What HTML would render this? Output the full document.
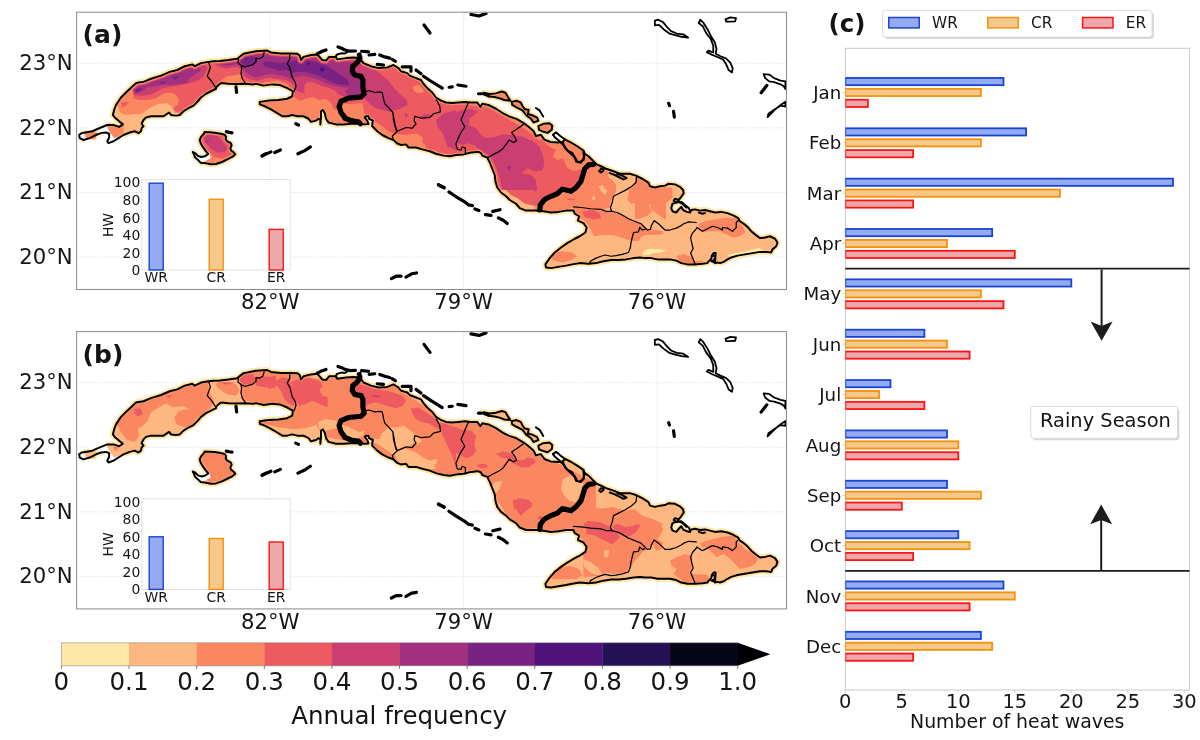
<!DOCTYPE html>
<html lang="en"><head><meta charset="utf-8"><title>Heat waves in Cuba</title>
<style>html,body{margin:0;padding:0;background:#fff}svg{display:block;will-change:transform}text{font-family:'DejaVu Sans','Liberation Sans',sans-serif;fill:#141414}</style></head><body>
<svg width="1200" height="740" viewBox="0 0 1200 740">
<rect width="1200" height="740" fill="#fff"/>
<defs>
<path id="main" d="M79.12 135 L81.62 133.12 L85.38 132.5 L92.25 131.25 L101 127.5 L107.25 125 L113.5 125 L119.12 126.88 L122.88 124.38 L119.12 121.25 L114.75 117.5 L112.88 115 L114.12 110 L116 105 L121 97.5 L127.25 91.25 L136 83.12 L138.5 82.5 L143.5 81.88 L151 78.75 L161 75.62 L169.75 71.88 L177.25 70 L184.75 66.25 L192.25 64.38 L194.75 66.25 L201 63.12 L208.5 61.88 L213.5 61.25 L219.75 61 L228.5 60 L237.25 58.75 L243.5 53.75 L256 51.25 L267.25 50.62 L271 52.5 L281 53.5 L291 53.5 L297.25 53.75 L299.75 55.62 L301 60 L303.5 56.88 L311 55 L317.25 54.38 L322.25 60 L326 60.62 L329.12 56.88 L336 56.88 L337.25 59.38 L346 58.12 L353.5 57.5 L359.75 58.12 L363.5 63.12 L371 66.25 L378.5 68.12 L387.25 67.5 L393.5 65 L398.5 68.12 L401 71.25 L407.25 73.12 L409.75 75.62 L416 78.12 L421 80 L423.5 83.75 L427.25 88.12 L432.25 92.5 L436 97.5 L441 100.62 L446 102.5 L452.25 103.12 L458.5 102.5 L464.75 101.88 L471 102.5 L477.25 102.5 L480.38 106.88 L482.25 103.75 L488.5 105 L496 108.75 L503.1 113.43 L509.18 116.47 L516.47 118.91 L523.77 123.16 L528.63 126.81 L533.5 131.06 L535.93 135.93 L540.79 134.71 L544.44 139.57 L550.52 142.01 L557.81 142.61 L562.67 142.01 L565.11 139.57 L571.19 142.61 L577.26 146.26 L583.34 150.52 L584.75 153.75 L588.5 156.25 L593.5 161.25 L596.62 164.38 L601 166.25 L606 168.75 L613.5 171.25 L619.75 173.75 L622.25 173.75 L629.75 173.75 L636 175.62 L642.25 178.75 L647.25 181.88 L648.75 183.12 L650 186.25 L655 187.5 L660 186.25 L665 185.62 L668.75 183.75 L675 184.38 L680 186.88 L683.12 190 L683.75 193.12 L681.25 196.88 L678.75 200 L675 198.75 L673.75 200.62 L676.25 202.5 L672.5 203.75 L671.25 208.12 L672.5 211.25 L676.25 212.5 L678.75 209.38 L681.25 206.88 L683.12 210 L686.88 211.88 L690 212.5 L691.25 210 L695 209.38 L700 210.62 L705 210 L710 211.25 L715 212.5 L721.25 211.88 L727.5 213.12 L733.75 215.62 L738.12 218.12 L740 221.25 L743.75 223.75 L747.5 226.88 L751.25 231.25 L755 234.38 L760 238.12 L765 237.5 L770 236.25 L775 238.75 L777.5 242.5 L776.25 246.25 L772.5 249.38 L771.25 252.5 L766.25 251.88 L760 251.88 L752.5 253.12 L745 254.38 L737.5 255.62 L731.25 257.5 L727.5 259.38 L723.75 261.88 L720 263.12 L717.5 262.5 L715 263.12 L715.62 253.12 L713.75 253.12 L711.88 255.62 L711.25 258.75 L708.12 261.88 L707.5 263.12 L702.5 263.75 L695 264.38 L687.5 264.38 L681.25 263.12 L676.25 260.62 L670 259.38 L663.75 259.38 L657.5 259.38 L651.25 258.12 L645 258.12 L640 257.5 L633.5 258.12 L626 259.38 L618.5 260 L611 260 L603.5 261.25 L596 263.12 L588.5 263.75 L579.75 263.12 L572.25 264.38 L566 265.62 L558.5 266.88 L551 268.12 L546 267.5 L545.38 264.38 L549.75 258.12 L554.75 252.5 L561 247.5 L567.25 243.12 L574.75 238.75 L579.75 236.25 L585.38 232.5 L586.62 227.5 L583.5 223.12 L577.88 220.62 L579.12 216.25 L574.75 213.75 L573.5 210.62 L566 210.62 L558.5 211.88 L551 212.5 L543.5 211.25 L536 210.62 L532.25 210.62 L526 210.62 L519.75 208.12 L516 203.75 L509.75 200 L506 196.25 L501 192.5 L497.25 187.5 L495.38 181.25 L494.75 175 L492.25 168.75 L489.75 162.5 L487.25 157.5 L482.25 155.62 L481 153.12 L478.5 151.88 L477.25 151.88 L471 152.5 L463.5 154.38 L456 155 L449.75 156.25 L443.5 155.62 L436 153.75 L429.75 151.25 L422.25 149.38 L416 147.5 L408.5 147.5 L406 144.38 L401 145 L397.25 143.5 L393.5 140 L388.5 138.12 L382.25 135 L377.25 131.25 L372.25 126.25 L372.25 123.75 L372.88 120.62 L369.12 118.75 L368.5 116.25 L366 116.25 L364.75 117.5 L367.25 120.62 L368.5 124 L364.75 124.38 L358.5 123.75 L351 123.75 L343.5 124.38 L336 124.38 L328.5 122.5 L326 118.75 L324.75 113.12 L322.88 110 L321 111.25 L321 117.5 L320.38 124.38 L320.38 120 L318.5 118.75 L316 120.62 L311 121.88 L308.5 118.75 L303.5 116.25 L297.25 116.25 L292.25 115 L287.25 116.25 L282.25 116.25 L277.25 113.12 L271 109.38 L264.75 106.25 L259.75 104.38 L259.75 101.88 L268.5 100.62 L278.5 100 L287.25 98.75 L292.25 96.25 L292.88 91.25 L287.25 88.12 L279.75 85 L272.25 84.38 L263.5 85.62 L256 83.75 L253.5 84.38 L244.75 83.75 L236 84 L228.5 83.75 L221 83.12 L218.5 85 L216 87.5 L216 88.75 L211 91.25 L206 93.75 L201 97.5 L197.88 101.25 L193.5 105.62 L188.5 108.12 L183.5 111.25 L179.75 115 L176 115.62 L171 115 L169.12 112.5 L167.25 113.75 L163.5 116.25 L157.25 116.25 L151 116.25 L146 117.5 L143.5 120 L141.62 123.75 L143.5 126.25 L141.62 128.12 L141 131.25 L138.5 133.12 L134.75 131.25 L129.75 132.5 L123.5 135 L118.5 138.12 L113.5 141.25 L108.5 143.12 L107.25 141.25 L109.12 137.5 L109.12 133.75 L106 132.5 L101 133.12 L96 135 L89.75 138.12 L83.5 140 L79.75 138.12Z"/>
<path id="juv" d="M204.67 132 L209.33 132.33 L214.67 132.67 L220.67 133.67 L224.67 134.67 L226 136.67 L225.67 139.33 L227.33 141.33 L230.67 143 L231.67 145.33 L230.33 148 L231 150.33 L233.33 152 L235.33 154.33 L232.67 156.67 L227.33 159.33 L222 162 L216 164 L210.67 164.33 L206 163.33 L200.67 162.67 L198 160 L195 157.33 L193.67 154 L192.67 152 L195.33 153.33 L198 156 L201.33 157 L204.67 156.33 L207.33 154.67 L208.33 154 L206 151.33 L202.67 146.67 L200.67 143.33 L199.67 140 L201 137 L203.67 134Z"/>
<path id="cay0" d="M483.65 92.77 L489.73 93.98 L495.81 93.37 L501.88 91.55 L505.53 92.77 L507.96 97.02 L510.4 100.67 L504.32 100.06 L499.45 98.24 L494.59 97.02 L488.51 96.41Z"/>
<path id="cay1" d="M511.61 101.88 L516.47 100.67 L520.73 102.49 L522.55 106.14 L524.98 109.18 L528.63 109.79 L528.02 114.04 L532.28 115.26 L537.14 117.69 L538.36 120.73 L533.5 122.55 L531.06 118.91 L526.2 115.26 L522.55 110.4 L516.47 107.36 L512.22 104.92Z"/>
<path id="cay2" d="M538.36 126.2 L543.22 123.77 L549.3 123.16 L552.34 125.59 L551.73 129.85 L547.48 132.89 L543.22 131.67 L538.97 129.85Z"/>
<clipPath id="cclip"><rect x="845.3" y="48" width="344.2" height="642"/></clipPath>
<clipPath id="mapclip"><rect x="77" y="12.5" width="709.5" height="277"/></clipPath>
<mask id="mk2" maskUnits="userSpaceOnUse" x="70" y="0" width="720" height="300"><g fill="#fff" stroke="#000" stroke-width="2.4" stroke-linejoin="round"><use href="#main"/><use href="#juv"/><use href="#cay0"/><use href="#cay1"/><use href="#cay2"/></g></mask>
<mask id="mk3" maskUnits="userSpaceOnUse" x="70" y="0" width="720" height="300"><g fill="#fff" stroke="#000" stroke-width="4.2" stroke-linejoin="round"><use href="#main"/><use href="#juv"/><use href="#cay0"/><use href="#cay1"/><use href="#cay2"/></g></mask>
<mask id="mk4" maskUnits="userSpaceOnUse" x="70" y="0" width="720" height="300"><g fill="#fff" stroke="#000" stroke-width="5.6" stroke-linejoin="round"><use href="#main"/><use href="#juv"/><use href="#cay0"/><use href="#cay1"/><use href="#cay2"/></g></mask>
<mask id="mk5" maskUnits="userSpaceOnUse" x="70" y="0" width="720" height="300"><g fill="#fff" stroke="#000" stroke-width="6.8" stroke-linejoin="round"><use href="#main"/><use href="#juv"/><use href="#cay0"/><use href="#cay1"/><use href="#cay2"/></g></mask>
<mask id="mk6" maskUnits="userSpaceOnUse" x="70" y="0" width="720" height="300"><g fill="#fff" stroke="#000" stroke-width="8.4" stroke-linejoin="round"><use href="#main"/><use href="#juv"/><use href="#cay0"/><use href="#cay1"/><use href="#cay2"/></g></mask>
<mask id="mk7" maskUnits="userSpaceOnUse" x="70" y="0" width="720" height="300"><g fill="#fff" stroke="#000" stroke-width="9.6" stroke-linejoin="round"><use href="#main"/><use href="#juv"/><use href="#cay0"/><use href="#cay1"/><use href="#cay2"/></g></mask>
<clipPath id="land"><use href="#main"/><use href="#juv"/><use href="#cay0"/><use href="#cay1"/><use href="#cay2"/></clipPath>
<g id="lines" fill="none" stroke="#000" stroke-linejoin="round" stroke-linecap="round">
<g stroke-width="1.25">
<path d="M208.5 61.88 L210.38 67.5 L207.25 76.25 L211.62 81.25 L216 88.12"/>
<path d="M241 66.25 L241.62 67.5 L241 73.75 L242.25 78.75 L245.38 83.12"/>
<path d="M238.5 59.38 L237.88 62.5 L241.62 65.62 L244.75 66.88 L252.25 65 L256 61.88 L256 58.12 L259.12 58.75 L262.88 56.88 L264.12 52.5"/>
<path d="M289.75 54.38 L289.75 58.75 L287.25 63.75 L289.75 67.5 L291 72.5 L292.25 77.5 L295.38 82.5 L296 86.25 L294.12 91.25"/>
<path d="M366 91.25 L369.12 90.62 L374.75 92.5 L379.75 91.88 L382.25 92.5 L383.5 98.75 L384.75 103.75 L388.5 107.5 L392.88 112.5 L393.5 120 L396 130 L392.88 112.5 L393.5 120 L395.38 126.25 L397.25 131.25 L392.25 136.25 L393.5 140"/>
<path d="M397.25 131.25 L406 127.5 L412.25 128.12 L416 123.75 L414.12 120.62 L414.75 116.25 L421 118.12 L429.75 117.5 L433.5 113.75 L440.38 111.88 L439.75 106.25 L436.62 100 L436 100"/>
<path d="M468.5 103.12 L467.88 103.75 L464.12 112.5 L461 120 L464.75 126.88 L461 132.5 L458.5 137.5 L456 143.75 L457.25 149.38 L461 150 L462.25 146.88 L465.38 148.12 L465.38 154.38"/>
<path d="M523.5 124.38 L517.25 128.75 L511.62 132.5 L514.75 136.88 L516.62 140.62 L513.5 142.5 L509.12 140 L506 144.38 L502.88 148.75 L498.5 151.88 L493.5 154.38 L487.88 157.5"/>
<path d="M636.62 176.88 L636 182.5 L631 186.88 L624.75 190.62 L618.5 193.75 L613.5 196.25 L612.25 202.5 L610.38 207.5 L611.62 211.25"/>
<path d="M573.5 206.88 L581 207.5 L591 208.75 L601 209.38 L606 211.25 L611.62 211.25 L617.25 212.5 L622.25 215 L628.5 218.75 L634.75 221.25 L641 223.75 L644.75 227.5 L647.25 230 L650.38 229.38 L651.62 225 L654.12 220.62 L658.5 223.75 L665 230 L670 230 L676.25 228.12 L681.25 225.62 L683.75 223.75 L688.75 221.88 L696.25 222.5"/>
<path d="M644.75 229.38 L642.25 230 L639.75 227.5 L638.5 231.88 L633.5 232.5 L631 242.5 L630.38 247.5 L628.5 252.5 L622.25 254.38 L616 255.62 L611 256.25 L605.38 255 L601 256.25 L596 258.12 L590.38 261.25 L589.75 263.75"/>
<path d="M696.88 228.12 L692.5 233.12 L690.62 237.5 L691.88 243.75 L693.12 248.75 L690.62 253.12 L692.5 257.5 L695 263.75"/>
<path d="M696.88 227.5 L702.5 231.25 L707.5 228.75 L712.5 226.25 L717.5 227.5 L722.5 230 L722.5 227.5 L727.5 228.12 L732.5 231.25 L736.25 227.5 L736.25 222.5 L738.75 220"/>
</g><g stroke-width="2">
<use href="#main"/><use href="#juv"/>
<use href="#cay0"/>
<use href="#cay1"/>
<use href="#cay2"/>
<path d="M552.95 134.71 L555.99 132.28 L560.24 135.93 L565.11 139.57"/>
<path d="M552.95 134.71 L554.77 137.14 L559.03 140.79 L563.89 145.65 L567.54 150.52 L572.4 152.95 L574.83 157.81 L576.05 161.46 L580.91 162.67 L583.95 157.81 L583.34 150.52"/>
<path d="M562.67 142.01 L565.11 148.09 L569.97 152.95 L574.83 157.2 L577.26 161.46"/>
<path d="M579.75 161.88 L583.5 160 L584.75 153.75"/>
<path d="M535.93 107.96 L539.57 110.4 L543.22 116.47"/>
<path d="M335.5 57 L337 54.5 L341.5 53.2 L345 53.5 L347.2 52.2"/>
<path d="M676.25 202.5 L681.25 201.88 L685 205 L688.75 208.12 L690 210.62"/>
<path d="M677.5 201.25 L682.5 203.75 L686.25 207.5"/>
<path d="M603.5 169.38 L601 168.75 L599.12 171.25 L601 172.5 L603.5 170.62"/>
<path d="M609.75 173.12 L614.75 175 L619.75 177.5 L623.5 179.38 L626.62 178.12 L622.25 175.62 L617.25 173.75"/>
<path d="M698.75 212.5 L702.5 213.75 L705 213.12"/>
<path d="M711.88 255.62 L715 256.25 L714.38 260 L711.25 261.25 L715 262.5"/>
</g><g stroke-width="1.8">
<path d="M654.87 20.54 L658.12 19.73 L662.98 22.17 L667.04 27.03 L671.09 31.09 L676.77 33.52 L683.26 34.33 L688.13 37.58 L681.64 36.76 L675.15 35.14 L669.47 33.52 L663.8 29.46 L658.93 24.92 L654.87 25.41Z"/>
<path d="M700.29 19.73 L703.54 22.98 L707.59 29.46 L710.84 35.95 L714.89 42.44 L716.51 48.93 L715.7 53.8 L720.57 56.23 L726.24 58.66 L730.3 62.72 L732.73 68.39 L731.92 72.45 L728.68 70.02 L726.24 64.34 L723 59.47 L717.32 57.04 L711.65 54.61 L706.78 52.17 L708.4 50.55 L713.27 52.5 L713.27 45.69 L710.84 39.2 L705.97 32.71 L702.73 26.22 L698.67 22.98Z"/>
<path d="M725.43 19.41 L730.3 17.46 L735.98 18.11 L735.17 21.35 L730.3 21.68 L726.24 21.68Z"/>
<path d="M763.55 74.07 L769.23 74.56 L774.1 78.13 L780.58 80.56 L785.45 81.37 L785.45 89.16 L783.83 86.24 L780.58 84.29 L774.1 82.18 L769.23 81.37 L765.17 78.13Z"/>
<path d="M785.45 101.65 L780.58 104.89 L775.72 108.95 L770.85 113.81 L767.61 117.06 L768.42 113.81 L774.1 109.76 L780.58 105.7 L785.45 106.51Z"/>
</g><g stroke-width="3.2">
<path d="M317.25 53.75 L322.25 51.25 L326 50"/>
<path d="M338 47 L341 48 L345 50 L350 51.2 L355.5 51"/>
<path d="M358.2 54.4 L360 53.8"/>
<path d="M361.62 51.25 L368.5 51.88"/>
<path d="M369.12 55 L374.75 54.38"/>
<path d="M379.75 55 L384.75 56.88 L389.75 58.12"/>
<path d="M392.25 59.38 L395.38 61.25"/>
<path d="M377.25 64.38 L383.5 65"/>
<path d="M402.25 66.88 L411 66.88 L411 71.25"/>
<path d="M416 70 L421 73.75"/>
<path d="M423.5 76.25 L431 81.25 L442.25 88.12"/>
<path d="M449.12 87.25 L452.25 86.88"/>
<path d="M457.88 85 L466 86.25"/>
<path d="M478.5 93.75 L481 93.75"/>
<path d="M483.5 93.75 L488.5 95.62"/>
<path d="M236 86.88 L236.62 92.5"/>
<path d="M226.33 131.67 L229.33 132.33 L232 132.8"/>
<path d="M262 156 L266 153.67"/>
<path d="M295.75 123.75 L298.5 125"/>
<path d="M262.25 155.62 L271 151.88"/>
<path d="M274.75 152.5 L280.38 150"/>
<path d="M297.88 153.75 L304.75 150.62 L310.38 146.88"/>
<path d="M438.5 185 L444.12 187.5"/>
<path d="M438.38 184.59 L444.05 187.84"/>
<path d="M448.92 191.89 L456.21 196.76 L464.32 201.62 L468.37 204.86 L472.43 205.67"/>
<path d="M474.86 208.92 L478.91 210.54"/>
<path d="M485.4 214.59 L491.08 215.4"/>
<path d="M492.7 211.35 L499.99 209.73"/>
<path d="M498.37 217.84 L503.24 220.27 L507.29 223.51"/>
<path d="M391.35 278.64 L396.22 276.21 L401.08 276.21"/>
<path d="M405.94 277.02 L411.62 273.78 L416.48 272.97"/>
<path d="M424 25 L430 33"/>
<path d="M471 14.5 L479 16 L486 13.5"/>
<path d="M668.66 103.27 L669.47 105.7"/>
<path d="M673.53 111.38 L674.34 117.06"/>
<path d="M766.8 85.43 L761.12 92.73"/>
</g><g stroke-width="5.2" stroke-linejoin="miter">
<path d="M359.75 56.88 L359.75 58.75 L357.25 62.5 L352.88 66.25 L352.25 71.25 L354.75 75 L361 76.25 L362.88 80 L362.88 87.5 L364.12 93.75 L361 96.88 L348.5 98.12 L341 101.25 L339.12 106.25 L341 112.5 L344.75 117.5 L343.5 117.5 L351 120.62 L358.5 121.88 L360.38 123.75"/>
<path d="M593.5 164.38 L588.5 165 L584.75 168.75 L582.88 175 L581 181.25 L576 187.5 L571 191.25 L566 190 L562.25 189.38 L557.25 193.75 L551 196.25 L546 198.75 L543.5 200.62 L540.38 205 L539.75 210"/>
</g></g>
</defs>
<g transform="translate(0 0)">
<g stroke="#dedede" stroke-width="0.6" stroke-dasharray="1 0.5" fill="none">
<path d="M270.2 12.5V289.5"/>
<path d="M463.6 12.5V289.5"/>
<path d="M657.0 12.5V289.5"/>
<path d="M77 63.3H786.5"/>
<path d="M77 127.9H786.5"/>
<path d="M77 192.5H786.5"/>
<path d="M77 257.0H786.5"/>
</g>
<g clip-path="url(#mapclip)">
<g stroke-linejoin="round"><g fill="#fde7a9" stroke="#fde7a9" stroke-width="6"><use href="#main"/><use href="#juv"/><use href="#cay0"/><use href="#cay1"/><use href="#cay2"/></g><g fill="#feb77e" stroke="#feb77e" stroke-width="1"><use href="#main"/><use href="#juv"/><use href="#cay0"/><use href="#cay1"/><use href="#cay2"/></g></g><g clip-path="url(#land)"><g mask="url(#mk2)"><path d="M113.5 98.33 L117.67 106.67 L120.17 112.5 L126 115 L134.33 114.17 L142.67 113.33 L149.33 108.33 L157.67 104.17 L166.83 103 L171.83 106.67 L174.33 110.83 L176 115.83 L192.67 116.67 L226 91.67 L276 91.67 L276 50 L192.67 50 L126 83.33Z" fill="#fb8761"/><path d="M106.83 124.17 L124.33 123.33 L123.5 133.33 L114.33 139.17 L109.33 133.33Z" fill="#fb8761"/><path d="M256 30 L456 30 L456 150 L256 150Z" fill="#fb8761"/><path d="M396 70 L596 70 L596 190 L396 190Z" fill="#fb8761"/><path d="M534.75 212.5 L534.75 201.25 L557.25 195 L567.25 191.88 L576 188.75 L584.75 176.25 L584.75 169.38 L586 160 L596 160 L603.5 167.5 L608.5 171.25 L608.5 177.5 L612.25 180 L616 185 L616 191.25 L613.5 196.25 L609.75 203.75 L609.75 207.5 L603.5 209.38 L591 208.75 L581 207.5 L573.5 207.5 L566 210 L559.75 213.75 L552.25 215 L544.75 213.75Z" fill="#fb8761"/><path d="M573.5 207.5 L591 208.75 L606 211.25 L617.25 212.5 L628.5 218.75 L641 223.75 L644.75 228.12 L639.75 228.75 L637.88 233.12 L641 237.5 L636 241.25 L628.5 240 L621 237.5 L613.5 235 L603.5 235 L593.5 236.25 L591 230 L587.25 223.75 L583.5 220 L578.5 217.5 L574.75 215Z" fill="#fb8761"/><path d="M628.5 191.25 L636 182.5 L641 177.5 L648.5 182.5 L653.5 185 L666 183.75 L666 220 L658.5 215 L652.25 210 L649.75 203.75 L646 207.5 L642.25 210 L638.5 206.25 L636 202.5 L631 203.75 L627.25 200 L628.5 195Z" fill="#fb8761"/><path d="M548.5 252.5 L561 251.25 L572.25 252.5 L577.25 256.25 L571 260 L563.5 262.5 L556 261.25 L551 258.75Z" fill="#fb8761"/><path d="M643.5 228.12 L653.5 230 L661 231.25 L664.75 233.75 L656 235 L646 233.75 L641 236.25 L638.5 241.25 L634.75 240 L636 232.5Z" fill="#fb8761"/><path d="M677.25 256.25 L686 253.75 L686 265 L679.75 262.5Z" fill="#fb8761"/><path d="M635 175 L647.5 182.5 L652.5 187.5 L665 187.5 L672.5 188.12 L672.5 197.5 L668.75 201.25 L662.5 205 L656.25 207.5 L651.25 202.5 L648.75 205 L652.5 211.25 L648.75 215 L640 218.75 L635 218.75Z" fill="#fb8761"/><path d="M698.75 223.75 L705 221.25 L715 219.38 L725 218.12 L735 218.12 L738.75 221.25 L743.75 227.5 L745 232.5 L740 236.25 L733.75 237.5 L727.5 235 L720 231.25 L710 231.25 L702.5 232.5 L698.75 230Z" fill="#fb8761"/><path d="M632.5 229.38 L647.5 229.38 L655 230 L663.75 231.25 L655 233.75 L647.5 235 L632.5 236.88Z" fill="#fb8761"/><path d="M640 228.75 L650 230 L663.75 231.25 L655 233.75 L645 235 L640 237.5Z" fill="#fb8761"/><path d="M676.25 256.25 L682.5 254.38 L690 256.25 L693.75 260 L695 265 L687.5 265.62 L681.25 263.75Z" fill="#fb8761"/><path d="M695 261.25 L702.5 260.62 L702.5 265 L696.25 265.25Z" fill="#fb8761"/><path d="M199.33 133.33 L209.33 130 L226 133.33 L234.33 143.33 L236 153.33 L226 160 L212.67 165 L204.33 160 L209.33 153.33 L202.67 145Z" fill="#fb8761"/></g><g mask="url(#mk3)"><path d="M132.67 91.67 L133.5 98.33 L139.33 100 L147.67 100 L156 98.33 L164.33 93.33 L171 92.5 L176 95 L179.33 100 L177.67 105 L172.67 108.33 L176 112 L184.33 110.33 L192.67 105 L202.67 98.33 L212.67 90 L217.67 85 L221 80.83 L226 76.67 L234.33 75 L241 74.17 L242.67 80 L249.33 82.5 L259.33 83.33 L267.67 81.67 L276 80.83 L276 50 L192.67 50 L131 83.33Z" fill="#ed5a5f"/><path d="M121 102.5 L129.33 101.67 L126 105.83 L121.83 107.5Z" fill="#ed5a5f"/><path d="M256 78.33 L266 80 L276 80 L286 83.33 L291 88.33 L294.33 96.67 L299.33 100.83 L306 98.67 L312.67 97 L319.33 100.33 L326 98.67 L331 103.33 L334.33 110 L339.33 108.33 L342.67 103.33 L349.33 105 L359.33 103.33 L364.33 113.33 L372.67 120 L377.67 123.33 L382.67 126.67 L389.33 131.67 L396 134.17 L406 130 L416 132.5 L424.33 138.33 L426 150 L456 150 L456 30 L256 30Z" fill="#ed5a5f"/><path d="M396 70 L411 82.5 L424.33 97.5 L438.5 104.17 L466 104.67 L487.67 107.5 L511 120.83 L523.5 128 L534.33 135.83 L540.67 142 L542.67 148.33 L546 153.33 L552.67 156.67 L554.33 160.83 L564.33 166.67 L569.33 171.67 L579.33 170 L583.5 170 L581 176.67 L577.67 185 L574.33 190 L489.33 190 L489.33 170 L484.33 156.67 L476 151.67 L466 153.33 L451 155 L439.33 153.33 L432.67 148.33 L422.67 143.33 L422.67 136.67 L416 133.33 L406 135 L396 133.33Z" fill="#ed5a5f"/><path d="M476 140 L542.67 140 L549.33 146.67 L556 150 L552.67 156.67 L557.67 160 L562.67 158.33 L567.67 168.33 L576 171.67 L582.67 168.33 L584.33 173.33 L581 180 L574.33 188.33 L566 190 L559.33 193.33 L549.33 196.67 L542.67 201.67 L539.33 206.67 L531 205 L524.33 203.33 L517.67 198.33 L511 195 L504.33 188.33 L497.67 180 L492.67 173.33 L489.33 165 L486 158.33 L476 151.67Z" fill="#ed5a5f"/><path d="M582.67 211.67 L592.67 210 L599.33 213.33 L601 218.33 L592.67 219.17 L584.33 216.67Z" fill="#ed5a5f"/><path d="M566.83 198.33 L576 198.83 L574.33 200.33 L567.67 200Z" fill="#ed5a5f"/><path d="M201 136.67 L207.67 132.5 L221 133.33 L230.17 140 L233.5 150 L231.33 154.67 L222.67 158.67 L214.33 157 L207.67 150.33 L202.33 143.33Z" fill="#ed5a5f"/></g><g mask="url(#mk4)"><path d="M133.5 90.83 L134.33 95 L142.67 95.83 L151 94.17 L159.33 90 L166 87.5 L176 85.83 L184.33 84.17 L192.67 82.5 L199.33 80 L204.33 75 L207.67 68.33 L205.17 63.33 L192.67 60 L159.33 71.67 L131 85Z" fill="#ca3e72"/><path d="M212.67 61.67 L217.67 66.67 L226 68.67 L236 66.67 L241.33 68.67 L242.67 75 L249.33 79.17 L257.67 80.83 L266 78.33 L276 76.67 L276 50 L212.67 50Z" fill="#ca3e72"/><path d="M203.5 136.67 L209.33 134.17 L217.67 135.83 L223 141.67 L228 148.33 L224.67 152 L217.67 152.83 L211 148.67 L206 143.33Z" fill="#ca3e72"/><path d="M256 50 L359.33 50 L362.67 63.33 L372.67 68.33 L379.33 73.33 L387.67 80 L394.33 88.33 L401 95 L406.83 100 L407.67 105 L401 108.33 L396 110 L389.33 111.67 L382.67 110 L376 108.33 L371 105 L366 100 L362.67 96.67 L356 98.33 L346 96.67 L339.33 95 L334.33 90 L327.67 87.5 L321 85.83 L314.33 82.5 L307.67 81.67 L304.33 85 L304.33 93.33 L297.67 91.67 L294.33 86.67 L291.83 83.33 L286 80 L279.33 79.17 L272.67 78.33 L266 75.83 L256 75Z" fill="#ca3e72"/><path d="M436 120 L444.33 113.33 L456 110 L456 150 L447.67 146.67 L442.67 133.33 L437.67 126.67Z" fill="#ca3e72"/><path d="M419.33 116.67 L429.33 114.17 L431 117.5 L422.67 119.17Z" fill="#ca3e72"/><path d="M404.33 114.17 L408.5 115 L406 117.5Z" fill="#ca3e72"/><path d="M436.83 120 L444.33 115 L452.67 113.33 L462.67 110 L469.33 109.17 L477.67 110.83 L474.33 115 L469.33 118.33 L469.33 125 L476 128.33 L481 135 L486 138.33 L496 136.67 L502.67 134.17 L512.67 135 L522.67 136.67 L532.67 141.67 L539.33 148.33 L542.67 155 L544.33 163.33 L542.67 170 L536 171.67 L527.67 168.33 L521 173.33 L529.33 176.67 L536 183.33 L537.67 190 L502.67 190 L499.33 176.67 L496 166.67 L492.67 160 L486 153.33 L479.33 150 L474.33 145 L467.67 143.33 L462.67 145 L457.67 143.33 L452.67 138.33 L447.67 133.33 L444.33 128.33 L439.33 123.33Z" fill="#ca3e72"/><path d="M396 96.67 L404.33 100 L407.67 103.33 L402.67 106.67 L396 105.83Z" fill="#ca3e72"/><path d="M404.33 113.33 L408.5 115 L406 117.5Z" fill="#ca3e72"/><path d="M421 115 L429.33 113.67 L427.67 116.67Z" fill="#ca3e72"/><path d="M476 143.33 L486 140 L531 140 L539.33 146.67 L542.67 155 L541 163.33 L534.33 168.33 L526 167.5 L521 173.33 L531 175 L536 180 L536 191.67 L529.33 188.33 L522.67 183.33 L516 187.5 L511.83 183.67 L507.67 178.33 L503.5 170 L499.33 161.67 L494.33 155 L486 147.5 L476 145.83Z" fill="#ca3e72"/></g><g mask="url(#mk5)"><path d="M133.5 89.33 L135 94 L140 92 L144 90 L147 87.33 L152 87 L158 86 L164 84.33 L172 85 L180 84 L187 83 L189.33 78 L195 74 L199.33 71.67 L201.33 68.67 L196 66.67 L184.33 68.33 L169.33 73.33 L156 78.33 L142.67 85Z" fill="#a1307e"/><path d="M217.67 62.5 L221 65 L229.33 65.83 L236 64.17 L241 65.83 L242.67 70 L249.33 75 L256 77.5 L264.33 75 L276 73.33 L276 50 L217.67 50Z" fill="#a1307e"/><path d="M205.17 140.83 L211 140 L206 142.67Z" fill="#a1307e"/><path d="M256 53.33 L266 54.67 L276 55.83 L289.33 56.33 L299.33 56.33 L311 57.5 L326 60 L339.33 61 L349.33 62 L353.5 63.33 L352.67 71.67 L361 74.17 L364.33 85 L362.67 93.33 L356 95.83 L348.5 95 L344.33 91.67 L349.33 87.5 L342.67 87.5 L334.33 85.83 L326 83.33 L319.33 80 L312.67 78.33 L304.33 75.83 L296 76.67 L289.33 78.33 L282.67 75.83 L276 75 L269.33 72.5 L262.67 71.67 L256 70Z" fill="#a1307e"/><path d="M507.67 165.83 L511 166.67 L509.33 170.83Z" fill="#a1307e"/><path d="M506.83 166.67 L510.17 165.83 L508.5 170.83Z" fill="#a1307e"/></g><g mask="url(#mk6)"><path d="M135.17 89.17 L142.67 88 L139.33 91.67 L135.67 91.67Z" fill="#782281"/><path d="M159.33 82.5 L166 81.33 L162.67 84.17Z" fill="#782281"/><path d="M171 76.67 L179.33 76.33 L175.17 80Z" fill="#782281"/><path d="M240.17 56.67 L251 55 L257.67 60 L252.67 65 L244.33 65.83 L240.17 61.67Z" fill="#782281"/><path d="M263.5 63 L276 62 L276 69.17 L267.67 67Z" fill="#782281"/><path d="M221 62.5 L227.67 63 L224.33 65Z" fill="#782281"/><path d="M263 63.33 L266 61 L269.33 61.67 L277.67 63.33 L286 62.5 L292.67 60.83 L299.33 60 L309.33 60.83 L319.33 62.5 L327.67 65.83 L334.33 70.83 L341 75.83 L347.67 80 L349.33 84.17 L342.67 85 L334.33 83.33 L327.67 80 L321 76.67 L314.33 74.17 L306 71.67 L297.67 71.67 L292.67 72.5 L286 70 L279.33 70.83 L272.67 68.33 L266 67.5 L263.33 65.33Z" fill="#782281"/></g><g mask="url(#mk7)"><path d="M243.5 56.67 L248.5 57.5 L245.17 60Z" fill="#4f127b"/><path d="M306.83 63.33 L310.17 62.83 L308.5 65.83Z" fill="#4f127b"/><path d="M319.33 69.17 L322.67 66.67 L325.17 70 L321.83 72Z" fill="#4f127b"/></g><g mask="url(#mk2)"><path d="M412.67 88.33 L419.33 85 L424.33 91.67 L417.67 93.33Z" fill="#fb8761"/><path d="M412.67 86.67 L417.67 85 L422.67 88.33 L421 93.33 L414.33 91.67Z" fill="#fb8761"/><path d="M344.33 104.17 L362.67 103.33 L364.33 113.33 L359.33 116.67 L349.33 113.33Z" fill="#fb8761"/></g><g><path d="M598.5 186.25 L602.25 185 L607.25 191.25 L604.75 195 L601 191.25Z" fill="#feb77e"/><path d="M591.62 197.5 L594.12 195.62 L596 199.38 L592.25 199.75Z" fill="#feb77e"/></g><g mask="url(#mk3)"><path d="M583.5 211.25 L591 210 L597.25 212.5 L601 217.5 L593.5 218.75 L586 216.25Z" fill="#ed5a5f"/></g><g><path d="M169.33 114.17 L176 113.33 L182.67 114.17 L179.33 116.33 L172.67 116.33Z" fill="#fde7a9"/><path d="M642.25 252.5 L648.5 248.75 L658.5 249.38 L666 250.62 L661 252.5 L654.75 252.5 L648.5 255 L643.5 255.62Z" fill="#fde7a9"/><path d="M642.5 252.5 L650 248.75 L660 249.38 L666.25 250.62 L658.75 252.5 L651.25 252.5 L647.5 255 L643.75 255Z" fill="#fde7a9"/><path d="M727.5 255.62 L735 253.12 L745 251.5 L752.5 249.38 L758.75 248.12 L763.12 250.25 L752.5 253.12 L742.5 255 L732.5 257.5Z" fill="#fde7a9"/></g></g><g fill="#fff" stroke="#fff" stroke-width="3" stroke-linejoin="round"><path d="M77.67 132.5 L86 130 L97.67 127.5 L105.17 124.17 L106 128.33 L109.33 134.17 L114 140 L118.5 138.33 L123 137 L109.33 146.33 L105.17 143.33 L107.67 136.67 L104.33 132.5 L98.5 134.67 L94.33 141.67 L86 141.67 L78.5 138.33Z"/><path d="M191.67 151.33 L195.33 153 L198 155.67 L201.33 156.67 L204.67 156 L208 153.67 L209 157.33 L202.67 160.67 L199.33 162 L196 159 L193.33 155.33Z"/></g><path d="M85.17 132 L96.83 132.83 L94.67 138.83 L86.33 137.33Z" fill="#fde7a9" stroke="#fde7a9" stroke-width="4" stroke-linejoin="round"/><path d="M85.17 132 L96.83 132.83 L94.67 138.83 L86.33 137.33Z" fill="#fb8761" stroke="#fb8761" stroke-width="1" stroke-linejoin="round"/>
<use href="#lines"/>
</g>
<rect x="76.6" y="12.2" width="709.9" height="277.3" fill="none" stroke="#8a8a8a" stroke-width="1"/>
<text x="72.6" y="70.1" font-size="21.2" text-anchor="end">23°N</text>
<text x="72.6" y="134.7" font-size="21.2" text-anchor="end">22°N</text>
<text x="72.6" y="199.3" font-size="21.2" text-anchor="end">21°N</text>
<text x="72.6" y="263.8" font-size="21.2" text-anchor="end">20°N</text>
<text x="270.2" y="309.4" font-size="21.2" text-anchor="middle">82°W</text>
<text x="463.6" y="309.4" font-size="21.2" text-anchor="middle">79°W</text>
<text x="657.0" y="309.4" font-size="21.2" text-anchor="middle">76°W</text>
<text x="82.6" y="43.2" font-size="25" font-weight="bold" fill="#000">(a)</text>
<g>
<rect x="141.8" y="179.5" width="148.4" height="90.5" fill="#fff" stroke="#dcdcdc" stroke-width="0.8"/>
<text x="140.3" y="275.1" font-size="13.9" text-anchor="end">0</text>
<text x="140.3" y="257.6" font-size="13.9" text-anchor="end">20</text>
<text x="140.3" y="240.0" font-size="13.9" text-anchor="end">40</text>
<text x="140.3" y="222.5" font-size="13.9" text-anchor="end">60</text>
<text x="140.3" y="204.9" font-size="13.9" text-anchor="end">80</text>
<text x="140.3" y="187.4" font-size="13.9" text-anchor="end">100</text>
<rect x="149.2" y="183.2" width="14" height="86.8" fill="#94aaf1" stroke="#1a44d4" stroke-width="1.4"/>
<text x="156.2" y="282.2" font-size="13.9" text-anchor="middle">WR</text>
<rect x="209.2" y="199.3" width="14" height="70.7" fill="#f5c88c" stroke="#f5910a" stroke-width="1.4"/>
<text x="216.2" y="282.2" font-size="13.9" text-anchor="middle">CR</text>
<rect x="269.2" y="229.4" width="14" height="40.6" fill="#eca8aa" stroke="#ff1414" stroke-width="1.4"/>
<text x="276.2" y="282.2" font-size="13.9" text-anchor="middle">ER</text>
<text transform="translate(112.6 225) rotate(-90)" font-size="13.9" text-anchor="middle">HW</text>
</g>
</g>
<g transform="translate(0 319.4)">
<g stroke="#dedede" stroke-width="0.6" stroke-dasharray="1 0.5" fill="none">
<path d="M270.2 12.5V289.5"/>
<path d="M463.6 12.5V289.5"/>
<path d="M657.0 12.5V289.5"/>
<path d="M77 63.3H786.5"/>
<path d="M77 127.9H786.5"/>
<path d="M77 192.5H786.5"/>
<path d="M77 257.0H786.5"/>
</g>
<g clip-path="url(#mapclip)">
<g stroke-linejoin="round"><g fill="#fde7a9" stroke="#fde7a9" stroke-width="6"><use href="#main"/><use href="#juv"/><use href="#cay0"/><use href="#cay1"/><use href="#cay2"/></g><g fill="#feb77e" stroke="#feb77e" stroke-width="1"><use href="#main"/><use href="#juv"/><use href="#cay0"/><use href="#cay1"/><use href="#cay2"/></g></g><g clip-path="url(#land)"><g mask="url(#mk2)"><path d="M116 101.27 L124.33 92.93 L132.67 85.43 L142.67 79.6 L154.33 74.6 L166 71.27 L179.33 67.93 L192.67 62.93 L207.67 61.27 L209.33 71.27 L214.33 82.93 L209.33 89.6 L202.67 94.6 L196 99.6 L191 106.27 L182.67 111.27 L169.33 112.93 L156 114.6 L146 116.27 L139.33 116.27 L134.33 122.93 L126 119.6 L121 112.93 L117.67 106.27Z" fill="#fb8761"/><path d="M217.67 61.27 L226 62.93 L236 64.6 L239.33 71.27 L236 76.27 L226 74.6 L219.33 69.6 L216 66.27Z" fill="#fb8761"/><path d="M241 49.6 L276 49.6 L276 79.6 L267.67 82.1 L256 82.93 L244.33 81.27 L241 74.6Z" fill="#fb8761"/><path d="M199.33 132.93 L209.33 129.6 L221 131.27 L231 140.43 L236 149.6 L231 156.27 L221 161.27 L209.33 162.93 L204.33 157.93 L207.67 151.27 L202.67 142.93Z" fill="#fb8761"/><path d="M113.5 127.1 L118.5 126.27 L117.67 131.27 L114 130.93Z" fill="#fb8761"/><path d="M256 29.6 L456 29.6 L456 149.6 L256 149.6Z" fill="#fb8761"/><path d="M396 69.6 L596 69.6 L596 189.6 L396 189.6Z" fill="#fb8761"/><path d="M476 139.6 L547.67 139.6 L562.67 154.6 L572.67 154.6 L566 157.93 L561 164.6 L562.67 172.93 L567.67 179.6 L574.33 181.27 L579.33 179.6 L576 187.93 L562.67 192.93 L551 197.93 L542.67 206.27 L526 211.27 L476 211.27Z" fill="#fb8761"/><path d="M539.33 209.6 L551 197.93 L562.67 192.93 L576 187.93 L589.33 187.1 L602.67 189.6 L612.67 187.93 L626 191.27 L634.33 189.6 L642.67 196.27 L652.67 199.6 L662.67 204.6 L659.33 212.93 L652.67 217.93 L649.33 226.27 L642.67 232.93 L636 239.6 L626 242.93 L619.33 249.6 L609.33 252.93 L599.33 246.27 L592.67 239.6 L589.33 229.6 L586 222.93 L576 214.6 L569.33 212.93 L556 214.6 L546 214.6Z" fill="#fb8761"/><path d="M556 249.6 L569.33 246.27 L579.33 249.6 L582.67 256.27 L576 259.6 L551 259.6Z" fill="#fb8761"/><path d="M583.33 187.93 L600 189.6 L611.67 187.93 L623.33 191.27 L633.33 192.93 L640 197.93 L648.33 199.6 L653.33 202.93 L660 206.27 L663.33 209.6 L660 216.27 L656.67 222.93 L651.67 226.27 L646.67 229.6 L641.67 232.93 L638.33 237.93 L635 241.27 L631.67 246.27 L625 252.93 L615 254.6 L606.67 252.93 L600 256.27 L583.33 257.93Z" fill="#fb8761"/><path d="M651.67 221.27 L656.67 219.6 L663.33 222.93 L661.67 229.6 L656.67 231.27 L653.33 226.27Z" fill="#fb8761"/><path d="M670 241.27 L676.67 237.93 L685 234.6 L691.67 236.27 L691.67 246.27 L690 252.93 L693.33 261.27 L685 264.6 L680 259.6 L673.33 254.6 L676.67 249.6 L671.67 246.27Z" fill="#fb8761"/><path d="M700 223.77 L706.67 221.27 L713.33 219.6 L723.33 217.1 L733.33 216.27 L738.33 222.93 L745 229.6 L753.33 234.6 L758.33 239.6 L755 244.6 L748.33 247.93 L740 249.6 L733.33 242.93 L728.33 237.93 L723.33 234.6 L716.67 237.93 L711.67 232.93 L706.67 227.93 L701.67 227.93Z" fill="#fb8761"/><path d="M691.67 254.6 L706.67 255.43 L710 259.6 L706.67 265.43 L693.33 264.6Z" fill="#fb8761"/></g><g><path d="M147.67 101.27 L151 92.93 L159.33 87.93 L166 83.77 L172.67 87.93 L182.67 86.6 L189.33 89.6 L179.33 91.27 L174.33 97.93 L176 104.6 L184.33 107.93 L191 106.27 L182.67 111.6 L169.33 113.27 L156 114.93 L146 116.6 L139.33 116.6 L137.67 109.6 L142.67 106.27Z" fill="#feb77e"/><path d="M317.67 102.93 L326 99.6 L336 101.27 L338.5 107.93 L332.67 109.6 L326 111.27 L322.67 116.27 L319.33 109.6Z" fill="#feb77e"/><path d="M341 104.6 L349.33 107.93 L359.33 112.93 L364.33 111.27 L362.67 116.27 L356 119.6 L346 116.27 L341 111.27Z" fill="#feb77e"/><path d="M379.33 119.6 L382.67 112.93 L389.33 107.93 L394.33 107.93 L399.33 111.27 L406 114.6 L414.33 117.93 L412.67 124.6 L406 128.77 L399.33 129.6 L396 136.27 L389.33 132.93 L382.67 127.93 L377.67 124.6 L372.67 122.93 L371 119.6Z" fill="#feb77e"/><path d="M394.33 132.93 L406 129.6 L416 132.93 L422.67 137.93 L432.67 142.93 L436 149.6 L402.67 149.6 L397.67 141.27Z" fill="#feb77e"/><path d="M261 103.77 L272.67 106.6 L282.67 108.27 L292.67 109.93 L306 108.77 L316 105.43 L319.33 111.27 L326 117.93 L339.33 120.43 L359.33 122.1 L359.33 129.6 L256 129.6 L256 102.93Z" fill="#feb77e"/><path d="M309.33 51.27 L336 51.27 L336 58.27 L322.67 59.6 L311 58.27Z" fill="#feb77e"/><path d="M362.67 59.6 L379.33 63.77 L394.33 65.43 L406 74.6 L416 81.27 L424.33 86.27 L434.33 96.27 L439.33 102.93 L456 102.93 L456 46.27 L362.67 46.27Z" fill="#feb77e"/><path d="M396 107.93 L404.33 106.27 L412.67 112.93 L417.67 117.93 L422.67 121.27 L417.67 124.6 L412.67 122.93 L406 126.27 L396 127.93Z" fill="#feb77e"/><path d="M396 131.27 L406 129.6 L416 134.6 L422.67 139.6 L429.33 141.27 L437.67 139.6 L436 144.6 L429.33 147.93 L421 146.27 L412.67 142.93 L402.67 141.27 L396 139.6Z" fill="#feb77e"/><path d="M494.33 162.93 L502.67 161.27 L499.33 169.6 L494.33 176.27 L491 169.6Z" fill="#feb77e"/><path d="M562.67 159.6 L569.33 156.27 L576 159.6 L582.67 162.93 L584.33 169.6 L579.33 176.27 L576 182.93 L569.33 181.27 L564.33 176.27 L561 169.6Z" fill="#feb77e"/><path d="M512.67 114.6 L526 122.93 L534.33 131.27 L541 137.93 L552.67 141.27 L562.67 146.27 L572.67 151.27 L584.33 157.93 L596 162.93 L596 119.6 L529.33 102.93Z" fill="#feb77e"/><path d="M486 156.27 L492.67 169.6 L497.67 181.27 L506 194.6 L516 204.6 L526 209.6 L539.33 209.6 L539.33 216.27 L509.33 211.27 L486 186.27 L479.33 159.6Z" fill="#feb77e"/><path d="M604.33 231.27 L609.33 230.43 L607.67 237.93 L604.33 237.1Z" fill="#feb77e"/><path d="M582.67 239.6 L591 242.93 L599.33 249.6 L602.67 256.27 L592.67 254.6 L584.33 247.93Z" fill="#feb77e"/><path d="M604.17 231.27 L608.33 230.43 L607.5 237.93 L604.17 237.93Z" fill="#feb77e"/></g><g mask="url(#mk3)"><path d="M134.33 89.6 L141 88.77 L142.67 94.6 L137.67 97.1 L134.33 93.77Z" fill="#ed5a5f"/><path d="M166 76.27 L172.67 75.6 L169.33 78.27Z" fill="#ed5a5f"/><path d="M240.17 56.27 L252.67 54.6 L256 59.6 L251 64.6 L242.67 65.43 L239.33 61.27Z" fill="#ed5a5f"/><path d="M264.33 57.93 L276 56.27 L276 67.93 L269.33 69.6 L264.33 64.6Z" fill="#ed5a5f"/><path d="M221 62.6 L236 63.43 L226 65.43Z" fill="#ed5a5f"/><path d="M256 57.93 L266 57.1 L276 61.27 L282.67 57.93 L289.33 59.6 L291.83 67.93 L296 79.6 L294.33 86.27 L289.33 84.6 L284.33 79.6 L281 71.27 L276 65.43 L266 67.93 L256 66.27Z" fill="#ed5a5f"/><path d="M291 62.93 L299.33 59.6 L309.33 58.77 L319.33 61.27 L322.67 66.27 L319.33 71.27 L322.67 76.27 L327.67 77.93 L327.67 87.93 L319.33 84.6 L312.67 81.27 L306 84.6 L299.33 86.27 L295.17 81.27 L292.67 72.93Z" fill="#ed5a5f"/><path d="M356 64.6 L366 66.27 L376 69.6 L387.67 71.27 L397.67 74.6 L404.33 79.6 L402.67 86.27 L396 88.77 L386 86.27 L376 82.93 L369.33 84.6 L365.17 87.93 L362.67 79.6 L359.33 72.93 L354.33 71.27Z" fill="#ed5a5f"/><path d="M411 88.77 L419.33 90.43 L427.67 94.6 L434.33 97.93 L437.67 102.93 L432.67 104.6 L422.67 102.93 L416 99.6 L412.67 94.6Z" fill="#ed5a5f"/><path d="M439.33 104.6 L456 107.93 L456 149.6 L452.67 137.93 L447.67 126.27 L442.67 116.27Z" fill="#ed5a5f"/></g><g mask="url(#mk4)"><path d="M372.67 75.93 L380.17 76.27 L379.33 77.93 L372.67 77.6Z" fill="#ca3e72"/></g><g mask="url(#mk3)"><path d="M396 74.6 L402.67 76.27 L406 81.27 L402.67 86.27 L396 87.93Z" fill="#ed5a5f"/><path d="M411 89.6 L417.67 87.93 L426 92.93 L432.67 97.93 L437.67 102.93 L439.33 109.6 L434.33 107.93 L427.67 102.93 L421 101.27 L414.33 96.27Z" fill="#ed5a5f"/><path d="M437.67 102.93 L446 104.6 L454.33 107.93 L462.67 110.43 L471 111.27 L476 116.27 L474.33 124.6 L476 131.27 L472.67 136.27 L466 138.77 L461 136.27 L454.33 132.93 L449.33 126.27 L452.67 121.27 L449.33 116.27 L442.67 111.27Z" fill="#ed5a5f"/><path d="M496 134.6 L502.67 132.1 L511 133.77 L516 139.6 L522.67 141.27 L527.67 137.93 L534.33 139.6 L536 142.93 L529.33 146.27 L521 147.93 L514.33 144.6 L507.67 139.6 L501 137.93Z" fill="#ed5a5f"/><path d="M477.67 145.43 L484.33 144.27 L488.5 147.1 L481 147.93Z" fill="#ed5a5f"/><path d="M512.67 182.93 L517.67 178.77 L527.67 180.43 L532.67 184.6 L529.33 189.6 L514.33 189.6Z" fill="#ed5a5f"/><path d="M512.67 181.27 L519.33 178.77 L529.33 181.27 L532.67 186.27 L526 191.27 L521 196.27 L516 189.6Z" fill="#ed5a5f"/><path d="M516 142.93 L526 139.6 L534.33 142.93 L529.33 147.93 L521 147.93Z" fill="#ed5a5f"/><path d="M476 146.27 L482.67 144.6 L487.67 147.93 L481 148.77Z" fill="#ed5a5f"/><path d="M537.67 197.93 L541.83 196.27 L542.67 199.6 L539.33 200.43Z" fill="#ed5a5f"/><path d="M584.33 203.77 L592.67 202.1 L602.67 203.77 L611 207.93 L617.67 212.93 L619.33 217.93 L612.67 224.6 L606 221.27 L597.67 217.93 L589.33 212.93 L584.33 207.93Z" fill="#ed5a5f"/><path d="M614.33 204.6 L621 206.27 L629.33 209.6 L636 204.6 L640.17 206.27 L636 212.93 L629.33 217.1 L622.67 214.6 L616 209.6Z" fill="#ed5a5f"/><path d="M586.67 201.27 L600 202.93 L608.33 207.93 L615 211.27 L620 217.93 L611.67 224.6 L605 221.27 L596.67 216.27 L586.67 214.6Z" fill="#ed5a5f"/><path d="M611.67 206.27 L618.33 204.6 L625 207.93 L633.33 206.27 L640 204.6 L636.67 211.27 L630 216.27 L623.33 214.6 L616.67 211.27Z" fill="#ed5a5f"/></g></g><g fill="#feb77e"><use href="#cay0"/><use href="#cay1"/><use href="#cay2"/></g><g fill="#fff" stroke="#fff" stroke-width="3" stroke-linejoin="round"><path d="M77.67 132.5 L86 130 L97.67 127.5 L105.17 124.17 L106 128.33 L109.33 134.17 L114 140 L118.5 138.33 L123 137 L109.33 146.33 L105.17 143.33 L107.67 136.67 L104.33 132.5 L98.5 134.67 L94.33 141.67 L86 141.67 L78.5 138.33Z"/><path d="M191.67 151.33 L195.33 153 L198 155.67 L201.33 156.67 L204.67 156 L208 153.67 L209 157.33 L202.67 160.67 L199.33 162 L196 159 L193.33 155.33Z"/></g><path d="M85.17 131.6 L96.83 132.43 L94.67 138.43 L86.33 136.93Z" fill="#fde7a9" stroke="#fde7a9" stroke-width="4" stroke-linejoin="round"/><path d="M85.17 131.6 L96.83 132.43 L94.67 138.43 L86.33 136.93Z" fill="#feb77e" stroke="#feb77e" stroke-width="1" stroke-linejoin="round"/>
<use href="#lines"/>
</g>
<rect x="76.6" y="12.2" width="709.9" height="277.3" fill="none" stroke="#8a8a8a" stroke-width="1"/>
<text x="72.6" y="70.1" font-size="21.2" text-anchor="end">23°N</text>
<text x="72.6" y="134.7" font-size="21.2" text-anchor="end">22°N</text>
<text x="72.6" y="199.3" font-size="21.2" text-anchor="end">21°N</text>
<text x="72.6" y="263.8" font-size="21.2" text-anchor="end">20°N</text>
<text x="270.2" y="309.4" font-size="21.2" text-anchor="middle">82°W</text>
<text x="463.6" y="309.4" font-size="21.2" text-anchor="middle">79°W</text>
<text x="657.0" y="309.4" font-size="21.2" text-anchor="middle">76°W</text>
<text x="82.6" y="43.2" font-size="25" font-weight="bold" fill="#000">(b)</text>
<g>
<rect x="141.8" y="179.5" width="148.4" height="90.5" fill="#fff" stroke="#dcdcdc" stroke-width="0.8"/>
<text x="140.3" y="275.1" font-size="13.9" text-anchor="end">0</text>
<text x="140.3" y="257.6" font-size="13.9" text-anchor="end">20</text>
<text x="140.3" y="240.0" font-size="13.9" text-anchor="end">40</text>
<text x="140.3" y="222.5" font-size="13.9" text-anchor="end">60</text>
<text x="140.3" y="204.9" font-size="13.9" text-anchor="end">80</text>
<text x="140.3" y="187.4" font-size="13.9" text-anchor="end">100</text>
<rect x="149.2" y="217.4" width="14" height="52.6" fill="#94aaf1" stroke="#1a44d4" stroke-width="1.4"/>
<text x="156.2" y="282.2" font-size="13.9" text-anchor="middle">WR</text>
<rect x="209.2" y="219.1" width="14" height="50.9" fill="#f5c88c" stroke="#f5910a" stroke-width="1.4"/>
<text x="216.2" y="282.2" font-size="13.9" text-anchor="middle">CR</text>
<rect x="269.2" y="222.6" width="14" height="47.4" fill="#eca8aa" stroke="#ff1414" stroke-width="1.4"/>
<text x="276.2" y="282.2" font-size="13.9" text-anchor="middle">ER</text>
<text transform="translate(112.6 225) rotate(-90)" font-size="13.9" text-anchor="middle">HW</text>
</g>
</g>
<rect x="61.40" y="642.8" width="67.93" height="23" fill="#fde7a9"/>
<rect x="129.03" y="642.8" width="67.93" height="23" fill="#feb77e"/>
<rect x="196.66" y="642.8" width="67.93" height="23" fill="#fb8761"/>
<rect x="264.29" y="642.8" width="67.93" height="23" fill="#ed5a5f"/>
<rect x="331.92" y="642.8" width="67.93" height="23" fill="#ca3e72"/>
<rect x="399.55" y="642.8" width="67.93" height="23" fill="#a1307e"/>
<rect x="467.18" y="642.8" width="67.93" height="23" fill="#782281"/>
<rect x="534.81" y="642.8" width="67.93" height="23" fill="#4f127b"/>
<rect x="602.44" y="642.8" width="67.93" height="23" fill="#251255"/>
<rect x="670.07" y="642.8" width="67.93" height="23" fill="#06051a"/>
<path d="M737.70 642.8L770.3 654.3L737.70 665.8Z" fill="#000004"/>
<path d="M61.4 642.8H737.70M61.4 665.8H737.70M61.4 642.8V665.8" stroke="#777" stroke-width="0.7" fill="none" opacity="0.7"/>
<path d="M61.40 665.8v3" stroke="#555" stroke-width="0.8"/>
<text x="61.40" y="690.4" font-size="24.5" text-anchor="middle">0</text>
<path d="M129.03 665.8v3" stroke="#555" stroke-width="0.8"/>
<text x="129.03" y="690.4" font-size="24.5" text-anchor="middle">0.1</text>
<path d="M196.66 665.8v3" stroke="#555" stroke-width="0.8"/>
<text x="196.66" y="690.4" font-size="24.5" text-anchor="middle">0.2</text>
<path d="M264.29 665.8v3" stroke="#555" stroke-width="0.8"/>
<text x="264.29" y="690.4" font-size="24.5" text-anchor="middle">0.3</text>
<path d="M331.92 665.8v3" stroke="#555" stroke-width="0.8"/>
<text x="331.92" y="690.4" font-size="24.5" text-anchor="middle">0.4</text>
<path d="M399.55 665.8v3" stroke="#555" stroke-width="0.8"/>
<text x="399.55" y="690.4" font-size="24.5" text-anchor="middle">0.5</text>
<path d="M467.18 665.8v3" stroke="#555" stroke-width="0.8"/>
<text x="467.18" y="690.4" font-size="24.5" text-anchor="middle">0.6</text>
<path d="M534.81 665.8v3" stroke="#555" stroke-width="0.8"/>
<text x="534.81" y="690.4" font-size="24.5" text-anchor="middle">0.7</text>
<path d="M602.44 665.8v3" stroke="#555" stroke-width="0.8"/>
<text x="602.44" y="690.4" font-size="24.5" text-anchor="middle">0.8</text>
<path d="M670.07 665.8v3" stroke="#555" stroke-width="0.8"/>
<text x="670.07" y="690.4" font-size="24.5" text-anchor="middle">0.9</text>
<path d="M737.70 665.8v3" stroke="#555" stroke-width="0.8"/>
<text x="737.70" y="690.4" font-size="24.5" text-anchor="middle">1.0</text>
<text x="399.2" y="724.3" font-size="24.5" text-anchor="middle">Annual frequency</text>
<rect x="845.3" y="48.3" width="344.20000000000005" height="641.7" fill="#fff" stroke="#c9c9c9" stroke-width="1"/>
<text x="828.6" y="32" font-size="24.5" font-weight="bold" fill="#000">(c)</text>
<rect x="884.5" y="12.3" width="269.4" height="26.7" rx="3" fill="#b8b8b8" opacity="0.55"/>
<rect x="882.6" y="10.4" width="269.4" height="26.7" rx="3" fill="#fff" stroke="#dadada" stroke-width="1"/>
<rect x="888.8" y="17.5" width="30.4" height="10.4" fill="#94aaf1" stroke="#1a44d4" stroke-width="1.5"/>
<text x="932.0" y="28.3" font-size="15.3">WR</text>
<rect x="987.8" y="17.5" width="30.4" height="10.4" fill="#f5c88c" stroke="#f5910a" stroke-width="1.5"/>
<text x="1031.0" y="28.3" font-size="15.3">CR</text>
<rect x="1082.6" y="17.5" width="30.4" height="10.4" fill="#eca8aa" stroke="#ff1414" stroke-width="1.5"/>
<text x="1125.8" y="28.3" font-size="15.3">ER</text>
<path d="M842.3 92.45h3" stroke="#c9c9c9" stroke-width="0.8"/>
<text x="841.2" y="99.05" font-size="18.2" text-anchor="end">Jan</text>
<rect x="845.3" y="77.95" width="158.20" height="7.2" fill="#94aaf1" stroke="#1a44d4" stroke-width="1.8" clip-path="url(#cclip)"/>
<rect x="845.3" y="88.85" width="135.60" height="7.2" fill="#f5c88c" stroke="#f5910a" stroke-width="1.8" clip-path="url(#cclip)"/>
<rect x="845.3" y="99.75" width="22.60" height="7.2" fill="#eca8aa" stroke="#ff1414" stroke-width="1.8" clip-path="url(#cclip)"/>
<path d="M842.3 142.80h3" stroke="#c9c9c9" stroke-width="0.8"/>
<text x="841.2" y="149.40" font-size="18.2" text-anchor="end">Feb</text>
<rect x="845.3" y="128.30" width="180.80" height="7.2" fill="#94aaf1" stroke="#1a44d4" stroke-width="1.8" clip-path="url(#cclip)"/>
<rect x="845.3" y="139.20" width="135.60" height="7.2" fill="#f5c88c" stroke="#f5910a" stroke-width="1.8" clip-path="url(#cclip)"/>
<rect x="845.3" y="150.10" width="67.80" height="7.2" fill="#eca8aa" stroke="#ff1414" stroke-width="1.8" clip-path="url(#cclip)"/>
<path d="M842.3 193.15h3" stroke="#c9c9c9" stroke-width="0.8"/>
<text x="841.2" y="199.75" font-size="18.2" text-anchor="end">Mar</text>
<rect x="845.3" y="178.65" width="327.70" height="7.2" fill="#94aaf1" stroke="#1a44d4" stroke-width="1.8" clip-path="url(#cclip)"/>
<rect x="845.3" y="189.55" width="214.70" height="7.2" fill="#f5c88c" stroke="#f5910a" stroke-width="1.8" clip-path="url(#cclip)"/>
<rect x="845.3" y="200.45" width="67.80" height="7.2" fill="#eca8aa" stroke="#ff1414" stroke-width="1.8" clip-path="url(#cclip)"/>
<path d="M842.3 243.50h3" stroke="#c9c9c9" stroke-width="0.8"/>
<text x="841.2" y="250.10" font-size="18.2" text-anchor="end">Apr</text>
<rect x="845.3" y="229.00" width="146.90" height="7.2" fill="#94aaf1" stroke="#1a44d4" stroke-width="1.8" clip-path="url(#cclip)"/>
<rect x="845.3" y="239.90" width="101.70" height="7.2" fill="#f5c88c" stroke="#f5910a" stroke-width="1.8" clip-path="url(#cclip)"/>
<rect x="845.3" y="250.80" width="169.50" height="7.2" fill="#eca8aa" stroke="#ff1414" stroke-width="1.8" clip-path="url(#cclip)"/>
<path d="M842.3 293.85h3" stroke="#c9c9c9" stroke-width="0.8"/>
<text x="841.2" y="300.45" font-size="18.2" text-anchor="end">May</text>
<rect x="845.3" y="279.35" width="226.00" height="7.2" fill="#94aaf1" stroke="#1a44d4" stroke-width="1.8" clip-path="url(#cclip)"/>
<rect x="845.3" y="290.25" width="135.60" height="7.2" fill="#f5c88c" stroke="#f5910a" stroke-width="1.8" clip-path="url(#cclip)"/>
<rect x="845.3" y="301.15" width="158.20" height="7.2" fill="#eca8aa" stroke="#ff1414" stroke-width="1.8" clip-path="url(#cclip)"/>
<path d="M842.3 344.20h3" stroke="#c9c9c9" stroke-width="0.8"/>
<text x="841.2" y="350.80" font-size="18.2" text-anchor="end">Jun</text>
<rect x="845.3" y="329.70" width="79.10" height="7.2" fill="#94aaf1" stroke="#1a44d4" stroke-width="1.8" clip-path="url(#cclip)"/>
<rect x="845.3" y="340.60" width="101.70" height="7.2" fill="#f5c88c" stroke="#f5910a" stroke-width="1.8" clip-path="url(#cclip)"/>
<rect x="845.3" y="351.50" width="124.30" height="7.2" fill="#eca8aa" stroke="#ff1414" stroke-width="1.8" clip-path="url(#cclip)"/>
<path d="M842.3 394.55h3" stroke="#c9c9c9" stroke-width="0.8"/>
<text x="841.2" y="401.15" font-size="18.2" text-anchor="end">Jul</text>
<rect x="845.3" y="380.05" width="45.20" height="7.2" fill="#94aaf1" stroke="#1a44d4" stroke-width="1.8" clip-path="url(#cclip)"/>
<rect x="845.3" y="390.95" width="33.90" height="7.2" fill="#f5c88c" stroke="#f5910a" stroke-width="1.8" clip-path="url(#cclip)"/>
<rect x="845.3" y="401.85" width="79.10" height="7.2" fill="#eca8aa" stroke="#ff1414" stroke-width="1.8" clip-path="url(#cclip)"/>
<path d="M842.3 444.90h3" stroke="#c9c9c9" stroke-width="0.8"/>
<text x="841.2" y="451.50" font-size="18.2" text-anchor="end">Aug</text>
<rect x="845.3" y="430.40" width="101.70" height="7.2" fill="#94aaf1" stroke="#1a44d4" stroke-width="1.8" clip-path="url(#cclip)"/>
<rect x="845.3" y="441.30" width="113.00" height="7.2" fill="#f5c88c" stroke="#f5910a" stroke-width="1.8" clip-path="url(#cclip)"/>
<rect x="845.3" y="452.20" width="113.00" height="7.2" fill="#eca8aa" stroke="#ff1414" stroke-width="1.8" clip-path="url(#cclip)"/>
<path d="M842.3 495.25h3" stroke="#c9c9c9" stroke-width="0.8"/>
<text x="841.2" y="501.85" font-size="18.2" text-anchor="end">Sep</text>
<rect x="845.3" y="480.75" width="101.70" height="7.2" fill="#94aaf1" stroke="#1a44d4" stroke-width="1.8" clip-path="url(#cclip)"/>
<rect x="845.3" y="491.65" width="135.60" height="7.2" fill="#f5c88c" stroke="#f5910a" stroke-width="1.8" clip-path="url(#cclip)"/>
<rect x="845.3" y="502.55" width="56.50" height="7.2" fill="#eca8aa" stroke="#ff1414" stroke-width="1.8" clip-path="url(#cclip)"/>
<path d="M842.3 545.60h3" stroke="#c9c9c9" stroke-width="0.8"/>
<text x="841.2" y="552.20" font-size="18.2" text-anchor="end">Oct</text>
<rect x="845.3" y="531.10" width="113.00" height="7.2" fill="#94aaf1" stroke="#1a44d4" stroke-width="1.8" clip-path="url(#cclip)"/>
<rect x="845.3" y="542.00" width="124.30" height="7.2" fill="#f5c88c" stroke="#f5910a" stroke-width="1.8" clip-path="url(#cclip)"/>
<rect x="845.3" y="552.90" width="67.80" height="7.2" fill="#eca8aa" stroke="#ff1414" stroke-width="1.8" clip-path="url(#cclip)"/>
<path d="M842.3 595.95h3" stroke="#c9c9c9" stroke-width="0.8"/>
<text x="841.2" y="602.55" font-size="18.2" text-anchor="end">Nov</text>
<rect x="845.3" y="581.45" width="158.20" height="7.2" fill="#94aaf1" stroke="#1a44d4" stroke-width="1.8" clip-path="url(#cclip)"/>
<rect x="845.3" y="592.35" width="169.50" height="7.2" fill="#f5c88c" stroke="#f5910a" stroke-width="1.8" clip-path="url(#cclip)"/>
<rect x="845.3" y="603.25" width="124.30" height="7.2" fill="#eca8aa" stroke="#ff1414" stroke-width="1.8" clip-path="url(#cclip)"/>
<path d="M842.3 646.30h3" stroke="#c9c9c9" stroke-width="0.8"/>
<text x="841.2" y="652.90" font-size="18.2" text-anchor="end">Dec</text>
<rect x="845.3" y="631.80" width="135.60" height="7.2" fill="#94aaf1" stroke="#1a44d4" stroke-width="1.8" clip-path="url(#cclip)"/>
<rect x="845.3" y="642.70" width="146.90" height="7.2" fill="#f5c88c" stroke="#f5910a" stroke-width="1.8" clip-path="url(#cclip)"/>
<rect x="845.3" y="653.60" width="67.80" height="7.2" fill="#eca8aa" stroke="#ff1414" stroke-width="1.8" clip-path="url(#cclip)"/>
<path d="M845.30 690.0v3" stroke="#c9c9c9" stroke-width="0.8"/>
<text x="845.30" y="708.4" font-size="19.44" text-anchor="middle">0</text>
<path d="M901.80 690.0v3" stroke="#c9c9c9" stroke-width="0.8"/>
<text x="901.80" y="708.4" font-size="19.44" text-anchor="middle">5</text>
<path d="M958.30 690.0v3" stroke="#c9c9c9" stroke-width="0.8"/>
<text x="958.30" y="708.4" font-size="19.44" text-anchor="middle">10</text>
<path d="M1014.80 690.0v3" stroke="#c9c9c9" stroke-width="0.8"/>
<text x="1014.80" y="708.4" font-size="19.44" text-anchor="middle">15</text>
<path d="M1071.30 690.0v3" stroke="#c9c9c9" stroke-width="0.8"/>
<text x="1071.30" y="708.4" font-size="19.44" text-anchor="middle">20</text>
<path d="M1127.80 690.0v3" stroke="#c9c9c9" stroke-width="0.8"/>
<text x="1127.80" y="708.4" font-size="19.44" text-anchor="middle">25</text>
<path d="M1184.30 690.0v3" stroke="#c9c9c9" stroke-width="0.8"/>
<text x="1184.30" y="708.4" font-size="19.44" text-anchor="middle">30</text>
<text x="1017.2" y="727.8" font-size="18.9" text-anchor="middle">Number of heat waves</text>
<path d="M845.3 268.7H1189.5M845.3 570.8H1189.5" stroke="#1c1c1c" stroke-width="1.8"/>
<path d="M1101.6 269.5V328" stroke="#1c1c1c" stroke-width="2"/><path d="M1101.6 340.8L1090.6 321.5L1101.6 326L1112.6 321.5Z" fill="#1c1c1c"/>
<path d="M1101.2 570V518" stroke="#1c1c1c" stroke-width="2"/><path d="M1101.2 504.6L1090.2 524.3L1101.2 520L1112.2 524.3Z" fill="#1c1c1c"/>
<rect x="1032.6" y="408.3" width="146.7" height="32" rx="3" fill="#b8b8b8" opacity="0.55"/>
<rect x="1030.8" y="406.4" width="146.7" height="32" rx="3" fill="#fff" stroke="#dadada" stroke-width="1"/>
<text x="1105.4" y="426.8" font-size="19.44" text-anchor="middle">Rainy Season</text>
</svg></body></html>
